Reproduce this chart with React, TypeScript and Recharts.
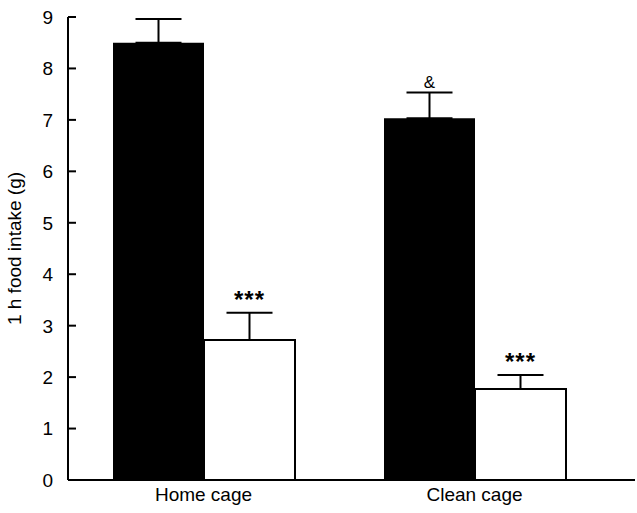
import { BarChart, Bar, XAxis, YAxis, ErrorBar, LabelList } from "recharts";

const categories = ["Home cage", "Clean cage"];
const controlIntake = [8.5, 7.03];
const controlSem = [0.46, 0.5];
const treatedIntake = [2.72, 1.77];
const treatedSem = [0.53, 0.27];
const controlMarks = ["", "&"];
const treatedMarks = ["***", "***"];
const yTicks = [0, 1, 2, 3, 4, 5, 6, 7, 8, 9];

const data = categories.map((name, i) => ({
  name,
  control: controlIntake[i],
  controlErr: [0, controlSem[i]],
  treated: treatedIntake[i],
  treatedErr: [0, treatedSem[i]],
}));

const FONT = "Arial, 'Liberation Sans', sans-serif";

// ticks on this chart point into the plot, so draw the line ourselves
function YTick(props: any) {
  const { x, y, payload } = props;
  const axisX = x + 15;
  return (
    <g>
      <line x1={axisX} y1={y} x2={axisX + 8} y2={y} stroke="#000" strokeWidth={2} />
      <text x={x} y={y} dy="0.36em" textAnchor="end" fontSize={19} fontFamily={FONT} fill="#000">
        {payload.value}
      </text>
    </g>
  );
}

// significance marks sit just above the top of the error bar
function marker(marks: string[], sems: number[], fontSize: number, bold: boolean) {
  return (props: any) => {
    const { x, y, width, height, value, index } = props;
    const m = marks[index];
    if (!m) return null;
    const ppu = height / value;
    const capY = y - sems[index] * ppu;
    return (
      <text
        x={x + width / 2}
        y={capY - 5}
        textAnchor="middle"
        fontSize={fontSize}
        fontWeight={bold ? "bold" : "normal"}
        fontFamily={FONT}
        letterSpacing={bold ? 1 : 0}
        fill="#000"
      >
        {m}
      </text>
    );
  };
}

export default function App() {
  return (
    <div style={{ width: 637, height: 513, background: "#fff" }}>
      <style>{`body{margin:0}`}</style>
      <BarChart
        width={637}
        height={513}
        data={data}
        margin={{ top: 17, right: 2, bottom: 0, left: 0 }}
        barGap={0}
        barSize={91}
      >
        <XAxis
          dataKey="name"
          height={33}
          axisLine={{ stroke: "#000", strokeWidth: 2 }}
          tickLine={false}
          tickSize={0}
          tickMargin={8}
          padding={{ left: 0, right: 25 }}
          tick={{ fontSize: 19, fontFamily: FONT, fill: "#000" }}
        />
        <YAxis
          width={68}
          domain={[0, 9]}
          ticks={yTicks}
          interval={0}
          axisLine={{ stroke: "#000", strokeWidth: 2 }}
          tickLine={false}
          tickSize={0}
          tickMargin={15}
          tick={<YTick />}
          label={{
            value: "1 h food intake (g)",
            angle: -90,
            position: "insideLeft",
            offset: 14,
            style: { textAnchor: "middle", fontSize: 19, fontFamily: FONT, fill: "#000" },
          }}
        />
        <Bar dataKey="control" fill="#000" isAnimationActive={false}>
          <ErrorBar dataKey="controlErr" direction="y" width={23} stroke="#000" strokeWidth={2} />
          <LabelList dataKey="control" content={marker(controlMarks, controlSem, 17, false)} />
        </Bar>
        <Bar dataKey="treated" fill="#fff" stroke="#000" strokeWidth={2} isAnimationActive={false}>
          <ErrorBar dataKey="treatedErr" direction="y" width={23} stroke="#000" strokeWidth={2} />
          <LabelList dataKey="treated" content={marker(treatedMarks, treatedSem, 24, true)} />
        </Bar>
      </BarChart>
    </div>
  );
}
